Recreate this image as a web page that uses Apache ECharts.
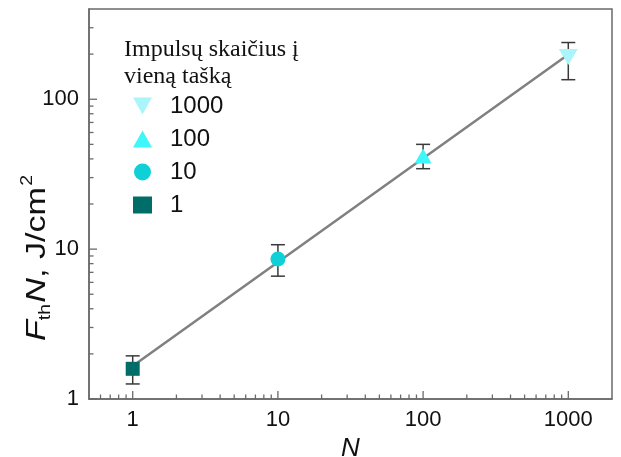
<!DOCTYPE html>
<html>
<head>
<meta charset="utf-8">
<script src="https://cdn.jsdelivr.net/npm/echarts@6/dist/echarts.min.js"></script>
<style>
  html, body { margin: 0; padding: 0; background: #fff; }
  #chart { width: 621px; height: 457px; }
</style>
</head>
<body>
<div id="chart"></div>
<script>
// Pulses per spot and the measured F_th·N values with their error limits
const pulseCounts = [1, 10, 100, 1000];
const seriesNames = ['1', '10', '100', '1000'];
const fluenceN = [1.59, 8.6, 41.8, 191];
const errLow = [1.26, 6.6, 34.4, 135];
const errHigh = [1.94, 10.7, 50, 239];

// Fitted power-law line, two end points
const fitN = [1, 1000];
const fitVal = [1.66, 199];

// Axis ticks
const xMajorTicks = [1, 10, 100, 1000];
const xMinorTicks = [0.6, 0.7, 0.8, 0.9, 2, 3, 4, 5, 6, 7, 8, 9,
  20, 30, 40, 50, 60, 70, 80, 90, 200, 300, 400, 500, 600, 700, 800, 900];
const yMajorTicks = [1, 10, 100];
const yMinorTicks = [2, 3, 4, 5, 6, 7, 8, 9, 20, 30, 40, 50, 60, 70, 80, 90, 200, 300];

const legendOrder = ['1000', '100', '10', '1'];

const colors = { '1': '#006d69', '10': '#0fd0d6', '100': '#3ff6f8', '1000': '#a9f5f9' };
const symbols = {
  '1': 'rect',
  '10': 'circle',
  '100': 'triangle',
  '1000': 'path://M0,0 L10,0 L5,9 Z'
};
const sizes = { '1': [14, 14], '10': [15, 15], '100': [17, 15], '1000': [19, 16] };

const X_MIN = 0.5, X_MAX = 2000, Y_MIN = 1, Y_MAX = 400;
const axisColor = '#6a6a6a';
const sans = '"Liberation Sans", Arial, sans-serif';
const plainNumber = v => String(v);
const MAJOR_LEN = 8;
const MINOR_LEN = 4.5;

const chart = echarts.init(document.getElementById('chart'), null, { renderer: 'canvas' });

const pointSeries = seriesNames.map((name, i) => ({
  name: name,
  type: 'scatter',
  symbol: symbols[name],
  symbolSize: sizes[name],
  itemStyle: { color: colors[name], opacity: 1 },
  data: [[pulseCounts[i], fluenceN[i]]],
  z: 5
}));

const errorSeries = {
  type: 'custom',
  name: 'err',
  z: 4,
  data: pulseCounts.map((n, i) => [n, errLow[i], errHigh[i]]),
  renderItem: function (params, api) {
    const lo = api.coord([api.value(0), api.value(1)]);
    const hi = api.coord([api.value(0), api.value(2)]);
    const w = 7;
    const st = { stroke: '#3a3a3a', lineWidth: 1.5 };
    return {
      type: 'group',
      children: [
        { type: 'line', shape: { x1: lo[0], y1: lo[1], x2: hi[0], y2: hi[1] }, style: st },
        { type: 'line', shape: { x1: lo[0] - w, y1: lo[1], x2: lo[0] + w, y2: lo[1] }, style: st },
        { type: 'line', shape: { x1: hi[0] - w, y1: hi[1], x2: hi[0] + w, y2: hi[1] }, style: st }
      ]
    };
  }
};

const fitSeries = {
  type: 'line',
  name: 'fit',
  showSymbol: false,
  silent: true,
  lineStyle: { color: '#808080', width: 2.5 },
  data: fitN.map((n, i) => [n, fitVal[i]]),
  z: 3
};

// Logarithmic tick marks on both axes (major + minor), pointing inward,
// placed through the axis scales
const xTickSeries = {
  type: 'custom',
  name: 'xTicks',
  silent: true,
  clip: false,
  z: 6,
  data: xMinorTicks.map(v => [v, Y_MIN, MINOR_LEN]).concat(xMajorTicks.map(v => [v, Y_MIN, MAJOR_LEN])),
  renderItem: function (params, api) {
    const p = api.coord([api.value(0), api.value(1)]);
    const len = api.value(2);
    return { type: 'line', shape: { x1: p[0], y1: p[1], x2: p[0], y2: p[1] - len },
      style: { stroke: axisColor, lineWidth: 1.3 } };
  }
};
const yTickSeries = {
  type: 'custom',
  name: 'yTicks',
  silent: true,
  clip: false,
  z: 6,
  data: yMinorTicks.map(v => [X_MIN, v, MINOR_LEN]).concat(yMajorTicks.map(v => [X_MIN, v, MAJOR_LEN])),
  renderItem: function (params, api) {
    const p = api.coord([api.value(0), api.value(1)]);
    const len = api.value(2);
    return { type: 'line', shape: { x1: p[0], y1: p[1], x2: p[0] + len, y2: p[1] },
      style: { stroke: axisColor, lineWidth: 1.3 } };
  }
};

const option = {
  animation: false,
  backgroundColor: '#ffffff',
  title: {
    text: 'Impulsų skaičius į\nvieną tašką',
    left: 119,
    top: 31,
    textStyle: {
      fontFamily: '"Liberation Serif", "Times New Roman", serif',
      fontWeight: 'normal',
      fontSize: 24,
      lineHeight: 27,
      color: '#111'
    }
  },
  legend: {
    data: legendOrder,
    orient: 'vertical',
    left: 128,
    top: 89,
    itemWidth: 19,
    itemHeight: 17,
    itemGap: 9,
    selectedMode: false,
    textStyle: {
      fontFamily: sans,
      fontSize: 24,
      color: '#111',
      padding: [0, 0, 0, 13]
    }
  },
  grid: {
    left: 89,
    right: 9,
    top: 9,
    bottom: 58,
    containLabel: false,
    outerBoundsMode: 'none',
    show: true,
    borderColor: axisColor,
    borderWidth: 1.5,
    backgroundColor: 'transparent'
  },
  graphic: [
    {
      type: 'text',
      x: 37,
      y: 258,
      rotation: Math.PI / 2,
      scaleX: 1.22,
      style: {
        text: '{i|F}{sub|th}{i|N}{n|, J/cm}{sup|2}',
        align: 'center',
        verticalAlign: 'middle',
        rich: {
          i: { fontFamily: sans, fontStyle: 'italic', fontSize: 28, fill: '#111', lineHeight: 34 },
          n: { fontFamily: sans, fontSize: 28, fill: '#111', lineHeight: 34 },
          sub: { fontFamily: sans, fontSize: 16, fill: '#111', verticalAlign: 'bottom', lineHeight: 34, padding: [0, 1, 0, 0] },
          sup: { fontFamily: sans, fontSize: 16, fill: '#111', verticalAlign: 'top', lineHeight: 34, padding: [0, 0, 10, 1] }
        }
      }
    }
  ],
  xAxis: {
    type: 'log',
    logBase: 10,
    min: X_MIN,
    max: X_MAX,
    position: 'bottom',
    name: 'N',
    nameLocation: 'middle',
    nameGap: 36,
    nameTextStyle: { fontFamily: sans, fontStyle: 'italic', fontSize: 26, color: '#111' },
    axisLine: { show: true, onZero: false, lineStyle: { color: axisColor, width: 1.5 } },
    axisTick: { show: false },
    axisLabel: { show: true, customValues: xMajorTicks, margin: 10, interval: 0, formatter: plainNumber,
      fontFamily: sans, fontSize: 22, color: '#111' },
    splitLine: { show: false },
    minorTick: { show: false }
  },
  yAxis: {
    type: 'log',
    logBase: 10,
    min: Y_MIN,
    max: Y_MAX,
    position: 'left',
    axisLine: { show: true, onZero: false, lineStyle: { color: axisColor, width: 1.5 } },
    axisTick: { show: false },
    axisLabel: { show: true, customValues: yMajorTicks, margin: 10, interval: 0, formatter: plainNumber,
      fontFamily: sans, fontSize: 22, color: '#111' },
    splitLine: { show: false },
    minorTick: { show: false }
  },
  series: [fitSeries, errorSeries, xTickSeries, yTickSeries].concat(pointSeries)
};

chart.setOption(option);
</script>
</body>
</html>
